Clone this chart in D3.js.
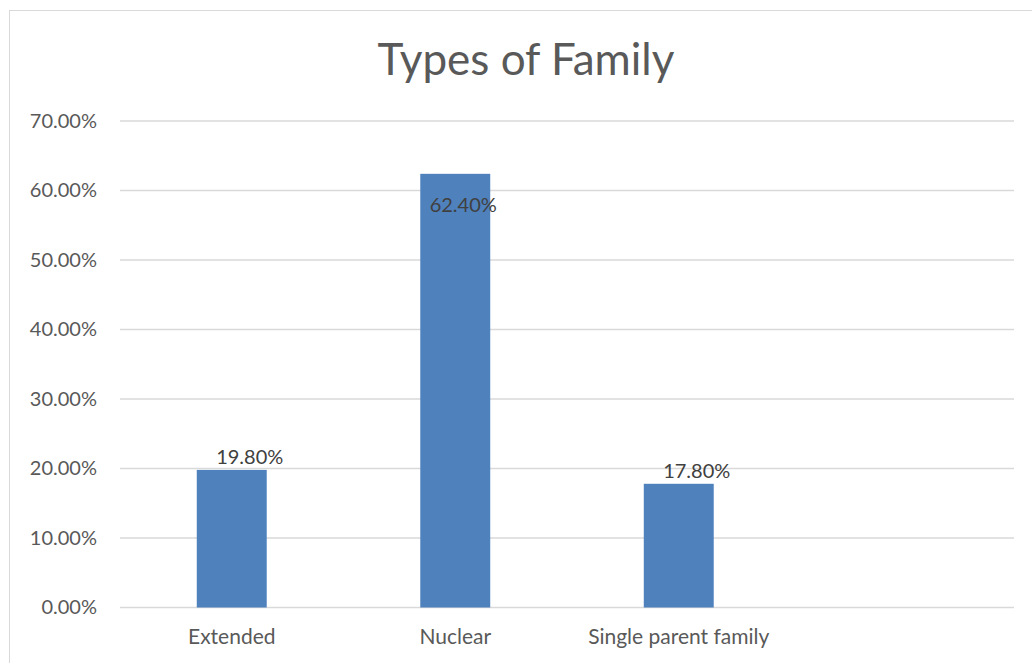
<!DOCTYPE html>
<html>
<head>
<meta charset="utf-8">
<script src="https://cdn.jsdelivr.net/npm/d3@7"></script>
<style>
  body { margin: 0; background: #fff; }
  text { font-family: Lato, "Open Sans", sans-serif; }
</style>
</head>
<body>
<svg id="chart" width="1032" height="663"></svg>
<script>
const title = "Types of Family";
const categories = ["Extended", "Nuclear", "Single parent family", ""];
const values = [19.8, 62.4, 17.8];
const yTicks = [0, 10, 20, 30, 40, 50, 60, 70];

const svg = d3.select("#chart");
const W = 1032, H = 663;
const plot = { left: 120, right: 1014, top: 121, bottom: 607.5 };

// chart frame
svg.append("rect")
  .attr("x", 9.5).attr("y", 10.5)
  .attr("width", W + 10).attr("height", H + 10)
  .attr("fill", "#fff").attr("stroke", "#d9d9d9").attr("stroke-width", 1);

const x = d3.scaleBand().domain(categories)
  .range([plot.left, plot.right]).paddingInner(0.687).paddingOuter(0.3435);
const y = d3.scaleLinear().domain([0, 70]).range([plot.bottom, plot.top]);

// gridlines
svg.append("g").selectAll("line").data(yTicks).join("line")
  .attr("x1", plot.left).attr("x2", plot.right)
  .attr("y1", d => y(d)).attr("y2", d => y(d))
  .attr("stroke", "#d9d9d9").attr("stroke-width", 1.3);

// y axis labels
const yAxis = d3.axisLeft(y).tickValues(yTicks)
  .tickFormat(d => d.toFixed(2) + "%").tickSize(0).tickPadding(23);
const gy = svg.append("g").attr("transform", `translate(${plot.left},0)`).call(yAxis);
gy.select(".domain").remove();
gy.selectAll("text").attr("fill", "#595959").style("font-size", "20px")
  .style("font-family", "Lato, 'Open Sans', sans-serif");

// x axis labels
const xAxis = d3.axisBottom(x).tickSize(0).tickPadding(22);
const gx = svg.append("g").attr("transform", `translate(0,${plot.bottom})`).call(xAxis);
gx.select(".domain").remove();
gx.selectAll("text").attr("fill", "#595959").style("font-size", "21px")
  .style("font-family", "Lato, 'Open Sans', sans-serif");

const rows = values.map((v, i) => ({ cat: categories[i], v }));

// bars
svg.append("g").selectAll("rect").data(rows).join("rect")
  .attr("x", d => x(d.cat)).attr("width", x.bandwidth())
  .attr("y", d => y(d.v)).attr("height", d => y(0) - y(d.v))
  .attr("fill", "#4f81bd");

// value labels (tall bars carry the label inside the top of the bar)
svg.append("g").selectAll("text").data(rows).join("text")
  .attr("x", d => x(d.cat) + x.bandwidth() / 2 + (d.v > 50 ? 8 : 18))
  .attr("y", d => d.v > 50 ? y(d.v) + 38 : y(d.v) - 6)
  .attr("text-anchor", "middle")
  .attr("fill", "#404040").style("font-size", "20px")
  .text(d => d.v.toFixed(2) + "%");

// title
svg.append("text")
  .attr("x", 526).attr("y", 75)
  .attr("text-anchor", "middle")
  .attr("fill", "#595959").style("font-size", "44px")
  .text(title);
</script>
</body>
</html>
